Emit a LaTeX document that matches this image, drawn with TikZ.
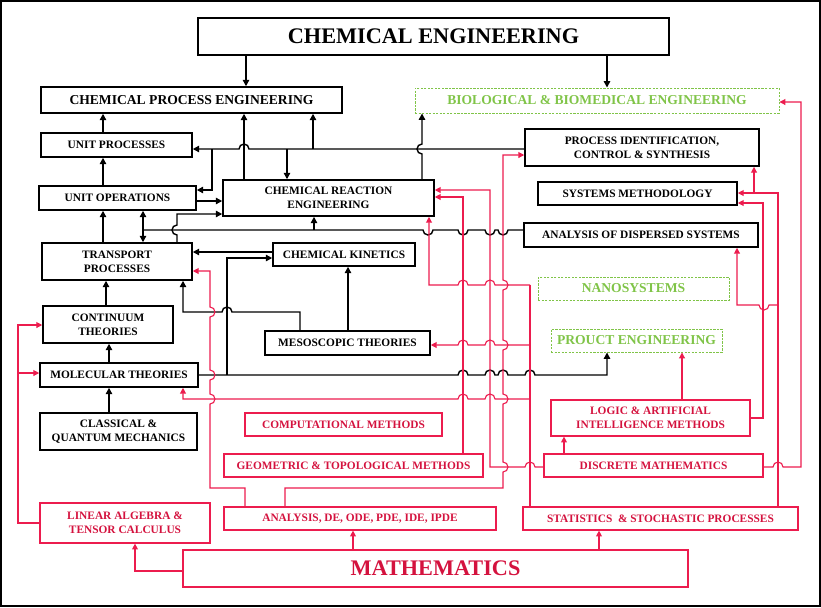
\documentclass[tikz,border=0pt]{standalone}
\usepackage{fontspec}
\setmainfont{Liberation Serif}
\usetikzlibrary{arrows.meta}

\definecolor{redline}{RGB}{236,28,78}
\definecolor{redtext}{RGB}{212,18,62}
\definecolor{grn}{RGB}{128,196,72}

\newcommand{\labfont}{\fontsize{9.7}{12}\selectfont\bfseries}
\newcommand{\midfont}{\fontsize{11.6}{13}\selectfont\bfseries}
\newcommand{\bigfont}{\fontsize{19}{21}\selectfont\bfseries}

% line hops, radius 5 units
\newcommand{\hopleft}{arc[start angle=0,end angle=180,radius=1.5mm]}
\newcommand{\hopright}{arc[start angle=180,end angle=0,radius=1.5mm]}
\newcommand{\dipleft}{arc[start angle=0,end angle=-180,radius=1.5mm]}
\newcommand{\hopup}{arc[start angle=-90,end angle=90,radius=1.5mm]}
\newcommand{\hopupl}{arc[start angle=270,end angle=90,radius=1.5mm]}

\tikzset{
  blkbox/.style={draw, line width=1.3pt, font=\labfont, align=center, inner sep=0pt},
  redbox/.style={draw=redline, line width=1pt, text=redtext, font=\labfont, align=center, inner sep=0pt},
  grnbox/.style={draw=grn, line width=0.8pt, dash pattern=on 2pt off 1pt, text=grn, font=\midfont, inner sep=0pt},
  arr/.style={line width=1.2pt, -{Triangle[length=5.5pt,width=5.5pt]}},
  rline/.style={draw=redline, line width=0.95pt},
  rarr/.style={rline, -{Triangle[length=5pt,width=5pt]}},
}

\begin{document}
\begin{tikzpicture}[x=0.03cm, y=-0.03cm]
\useasboundingbox (0,0) rectangle (821,607);
\draw[line width=1pt] (1,1) rectangle (820,606);

% black boxes
\node[blkbox, font=\bigfont, minimum width=14.13cm, minimum height=1.11cm] (ce) at (433.5,36.5) {CHEMICAL ENGINEERING};
\node[blkbox, font=\midfont, minimum width=9.03cm, minimum height=0.78cm] (cpe) at (191.5,100) {CHEMICAL PROCESS ENGINEERING};
\node[blkbox, minimum width=4.53cm, minimum height=0.72cm] (up) at (116.5,145) {UNIT PROCESSES};
\node[blkbox, minimum width=7.02cm, minimum height=1.11cm] (pic) at (642,147.5) {PROCESS IDENTIFICATION,\\CONTROL \& SYNTHESIS};
\node[blkbox, minimum width=4.71cm, minimum height=0.72cm] (uo) at (117.5,198) {UNIT OPERATIONS};
\node[blkbox, minimum width=6.33cm, minimum height=1.08cm] (cre) at (328.5,198) {CHEMICAL REACTION\\ENGINEERING};
\node[blkbox, minimum width=5.97cm, minimum height=0.69cm] (sm) at (637.5,193.5) {SYSTEMS METHODOLOGY};
\node[blkbox, minimum width=4.5cm, minimum height=1.11cm] (tp) at (117,261.5) {TRANSPORT\\PROCESSES};
\node[blkbox, minimum width=4.26cm, minimum height=0.69cm] (ck) at (344,254.5) {CHEMICAL KINETICS};
\node[blkbox, minimum width=7.02cm, minimum height=0.72cm] (ads) at (641,235) {ANALYSIS OF DISPERSED SYSTEMS};
\node[blkbox, minimum width=3.9cm, minimum height=1.11cm] (cont) at (108,324.5) {CONTINUUM\\THEORIES};
\node[blkbox, minimum width=4.95cm, minimum height=0.72cm] (meso) at (347.5,343) {MESOSCOPIC THEORIES};
\node[blkbox, minimum width=4.74cm, minimum height=0.72cm] (mol) at (119,375) {MOLECULAR THEORIES};
\node[blkbox, minimum width=4.71cm, minimum height=1.11cm] (cqm) at (118.5,431.5) {CLASSICAL \&\\QUANTUM MECHANICS};

% green boxes
\node[grnbox, minimum width=10.92cm, minimum height=0.75cm] (bio) at (597,100.5) {BIOLOGICAL \& BIOMEDICAL ENGINEERING};
\node[grnbox, minimum width=5.73cm, minimum height=0.69cm] (nano) at (633.5,288.5) {NANOSYSTEMS};
\node[grnbox, minimum width=5.13cm, minimum height=0.69cm] (pe) at (636.5,340.5) {PROUCT ENGINEERING};

% red boxes
\node[redbox, minimum width=5.91cm, minimum height=0.69cm] (comp) at (343.5,424.5) {COMPUTATIONAL METHODS};
\node[redbox, minimum width=5.97cm, minimum height=1.08cm] (logic) at (650.5,418) {LOGIC \& ARTIFICIAL\\INTELLIGENCE METHODS};
\node[redbox, minimum width=7.77cm, minimum height=0.69cm] (geo) at (353.5,465.5) {GEOMETRIC \& TOPOLOGICAL METHODS};
\node[redbox, minimum width=6.57cm, minimum height=0.69cm] (disc) at (653.5,465.5) {DISCRETE MATHEMATICS};
\node[redbox, minimum width=5.1cm, minimum height=1.2cm] (lin) at (125,523) {LINEAR ALGEBRA \&\\TENSOR CALCULUS};
\node[redbox, minimum width=8.16cm, minimum height=0.69cm] (ana) at (360,518.5) {ANALYSIS, DE, ODE, PDE, IDE, IPDE};
\node[redbox, minimum width=8.25cm, minimum height=0.69cm] (stat) at (660.5,518.5) {STATISTICS\ \ \& STOCHASTIC PROCESSES};
\node[redbox, font=\bigfont, minimum width=15.15cm, minimum height=1.11cm] (math) at (435.5,568.5) {MATHEMATICS};

% junctions
\coordinate (p1) at (212,149);
\coordinate (p2) at (287,149);
\coordinate (p3) at (313,149);
\coordinate (d1) at (143,230);
\coordinate (d2) at (314,230);
\coordinate (m1) at (227,375);
\coordinate (l1) at (18,373);
\coordinate (s1) at (530,285);
\coordinate (s2) at (530,345);
\coordinate (s3) at (530,399);
\coordinate (s4) at (754,193);
\coordinate (s5) at (778,305);

% black connectors
\draw[arr] (ce.south -| 246,0) -- (cpe.north -| 246,0);
\draw[arr] (ce.south -| 607,0) -- (bio.north -| 607,0);
\draw[arr] (up.north -| 103,0) -- (cpe.south -| 103,0);
\draw[arr] (uo.north -| 103,0) -- (up.south -| 103,0);
\draw[arr] (tp.north -| 103,0) -- (uo.south -| 103,0);
\draw[arr] (cont.north -| 106,0) -- (tp.south -| 106,0);
\draw[arr] (mol.north -| 109,0) -- (cont.south -| 109,0);
\draw[arr] (cqm.north -| 109,0) -- (mol.south -| 109,0);
\draw[arr] (cre.north -| 244,0) -- (cpe.south -| 244,0);
\draw[arr] (cre.north -| 422,0) -- (422,154) \hopupl -- (bio.south -| 422,0);
\draw[arr] (pic.west |- 0,149) -- (249,149) \hopleft -- (up.east |- 0,149);
\draw[arr] (p1) |- (uo.east |- 0,190);
\draw[arr] (p2) -- (cre.north -| 287,0);
\draw[arr] (p3) -- (cpe.south -| 313,0);
\draw[arr] (uo.east |- 0,201) -- (cre.west |- 0,201);
\draw[arr] (tp.north -| 177,0) -- (177,235) \hopupl -- (177,214) -- (cre.west |- 0,214);
\draw[line width=1.2pt] (ads.west |- 0,230) -- (508,230) \dipleft -- (495,230) \dipleft
  -- (468,230) \dipleft -- (433,230) \dipleft -- (d1);
\draw[arr] (d1) -- (uo.south -| 143,0);
\draw[arr] (d1) -- (tp.north -| 143,0);
\draw[arr] (d2) -- (cre.south -| 314,0);
\draw[arr] (ck.west |- 0,252) -- (tp.east |- 0,252);
\draw[arr] (mol.east |- 0,375) -- (458,375) \hopright -- (485,375) \hopright
  -- (498,375) \hopright -- (525,375) \hopright -- (607,375) -- (pe.south -| 607,0);
\draw[arr] (m1) |- (ck.west |- 0,258);
\draw[arr] (meso.north -| 300,0) |- (232,312) \hopleft -- (183,312) -- (tp.south -| 183,0);
\draw[arr] (meso.north -| 348,0) -- (ck.south -| 348,0);

% red connectors
\draw[rarr] (math.west |- 0,571) -| (lin.south -| 135,0);
\draw[rarr] (math.north -| 353,0) -- (ana.south -| 353,0);
\draw[rarr] (math.north -| 599,0) -- (stat.south -| 599,0);
\draw[rarr] (lin.west) -| (18,325) -- (cont.west |- 0,325);
\draw[rarr] (l1) -- (mol.west |- 0,373);
\draw[rarr] (ana.north -| 245,0) |- (210,488) -- (210,404) \hopup -- (210,380) \hopup
  -- (210,317) \hopup -- (210,271) -- (tp.east |- 0,271);
\draw[rarr] (ana.north -| 285,0) |- (503,488) -- (503,472) \hopup -- (503,404) \hopup
  -- (503,350) \hopup -- (503,290) \hopup -- (503,155) -- (pic.west |- 0,155);
\draw[rline] (stat.north -| 530,0) -- (s1);
\draw[rarr] (s1) -- (495,285) \hopleft -- (468,285) \hopleft -- (429,285) -- (cre.south -| 429,0);
\draw[rarr] (s2) -- (495,345) \hopleft -- (468,345) \hopleft -- (meso.east |- 0,345);
\draw[rarr] (s3) -- (495,399) \hopleft -- (468,399) \hopleft -- (183,399) -- (mol.south -| 183,0);
\draw[rarr] (geo.north -| 463,0) |- (cre.east |- 0,197);
\draw[rarr] (disc.west |- 0,467) -- (535,467) \hopleft -- (490,467) |- (cre.east |- 0,190);
\draw[rarr] (disc.north -| 564,0) -- (logic.south -| 564,0);
\draw[rarr] (logic.north -| 682,0) -- (pe.south -| 682,0);
\draw[rarr] (disc.east |- 0,467) -- (773,467) \hopright -- (801,467) |- (bio.east |- 0,102);
\draw[rarr] (stat.north -| 778,0) |- (sm.east |- 0,193);
\draw[rarr] (s4) -- (pic.south -| 754,0);
\draw[rarr] (s5) -- (769,305) \dipleft -- (737,305) -- (ads.south -| 737,0);
\draw[rarr] (logic.east |- 0,418) -| (763,203) -- (sm.east |- 0,203);
\end{tikzpicture}
\end{document}
